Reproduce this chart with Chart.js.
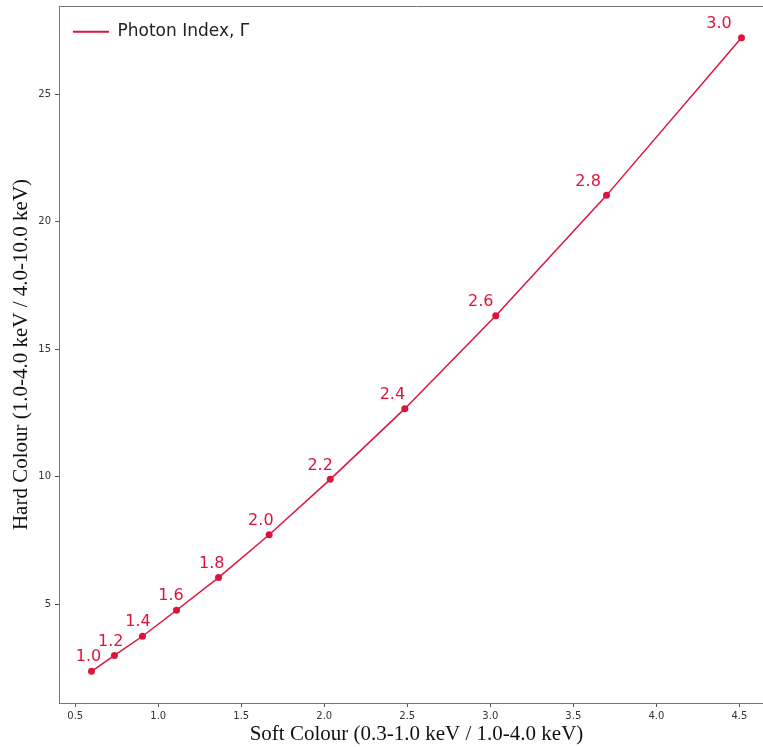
<!DOCTYPE html>
<html>
<head>
<meta charset="utf-8">
<script src="https://cdn.jsdelivr.net/npm/chart.js@4"></script>
<style>
  html, body { margin: 0; padding: 0; background: #fff; overflow: hidden; }
  #wrap { width: 763px; height: 747px; overflow: hidden; position: relative; }
  #c { position: absolute; left: 0; top: 0; }
</style>
</head>
<body>
<div id="wrap"><canvas id="c" width="790" height="747"></canvas></div>
<script>
// ---- data ----
const photonIndex = ['1.0', '1.2', '1.4', '1.6', '1.8', '2.0', '2.2', '2.4', '2.6', '2.8', '3.0'];
const softColour  = [0.598, 0.736, 0.905, 1.110, 1.363, 1.668, 2.036, 2.485, 3.033, 3.700, 4.513];
const hardColour  = [2.376, 3.00, 3.75, 4.77, 6.05, 7.73, 9.90, 12.67, 16.31, 21.03, 27.21];
const xTicks = [0.5, 1.0, 1.5, 2.0, 2.5, 3.0, 3.5, 4.0, 4.5];
const yTicks = [5, 10, 15, 20, 25];
const seriesLabel = 'Photon Index, \u0393';
const xTitle = 'Soft Colour (0.3-1.0 keV / 1.0-4.0 keV)';
const yTitle = 'Hard Colour (1.0-4.0 keV / 4.0-10.0 keV)';

const RED = '#DC143C';
const points = softColour.map((x, i) => ({ x: x, y: hardColour[i] }));

// matplotlib-like 5% margins
const xr = Math.max(...softColour) - Math.min(...softColour);
const yr = Math.max(...hardColour) - Math.min(...hardColour);
const xMin = Math.min(...softColour) - 0.05 * xr, xMax = Math.max(...softColour) + 0.05 * xr;
const yMin = Math.min(...hardColour) - 0.05 * yr, yMax = Math.max(...hardColour) + 0.05 * yr;

const framePlugin = {
  id: 'frame',
  afterDraw(chart) {
    const { ctx, chartArea: a } = chart;
    ctx.save();
    ctx.strokeStyle = '#777';
    ctx.lineWidth = 1;
    ctx.beginPath();
    ctx.moveTo(a.left, a.top + 0.5);
    ctx.lineTo(a.right, a.top + 0.5);
    ctx.moveTo(a.right - 0.5, a.top);
    ctx.lineTo(a.right - 0.5, a.bottom);
    ctx.stroke();
    ctx.restore();
  }
};

const labelPlugin = {
  id: 'pointLabels',
  afterDatasetsDraw(chart) {
    const { ctx } = chart;
    const xs = chart.scales.x, ys = chart.scales.y;
    ctx.save();
    ctx.font = '16px "DejaVu Sans"';
    ctx.fillStyle = RED;
    ctx.textAlign = 'center';
    ctx.textBaseline = 'bottom';
    photonIndex.forEach((lab, i) => {
      const px = xs.getPixelForValue(softColour[i] * 0.97);
      const py = ys.getPixelForValue(hardColour[i]) - 6;
      ctx.fillText(lab, px, py);
    });
    ctx.restore();
  }
};

new Chart(document.getElementById('c'), {
  type: 'line',
  data: {
    datasets: [{
      label: seriesLabel,
      data: points,
      borderColor: RED,
      backgroundColor: RED,
      borderWidth: 1.5,
      pointRadius: 3.5,
      pointHoverRadius: 3.5,
      pointBackgroundColor: RED,
      pointBorderColor: RED,
      pointBorderWidth: 0,
      tension: 0,
      fill: false
    }]
  },
  options: {
    responsive: false,
    devicePixelRatio: 1,
    animation: false,
    layout: { padding: { left: 0, top: 6, right: 16, bottom: 0 } },
    plugins: {
      legend: {
        position: 'chartArea',
        align: 'start',
        title: {
          display: true,
          text: ' ',
          font: { size: 1 },
          padding: { top: 4, bottom: 4 }
        },
        labels: {
          boxWidth: 36,
          boxHeight: 2,
          padding: 14,
          color: '#222',
          font: { family: '"DejaVu Sans"', size: 17 },
          generateLabels(chart) {
            return chart.data.datasets.map((d, i) => ({
              text: d.label, fillStyle: RED, strokeStyle: RED, lineWidth: 0,
              fontColor: '#222', datasetIndex: i, hidden: false
            }));
          }
        }
      },
      tooltip: { enabled: false }
    },
    scales: {
      x: {
        type: 'linear',
        min: xMin, max: xMax,
        afterFit(s) { s.height = 44; s.paddingLeft = 0; s.paddingRight = 0; },
        afterBuildTicks(s) { s.ticks = xTicks.map(v => ({ value: v })); },
        ticks: {
          includeBounds: false,
          padding: 3,
          color: '#333',
          font: { family: '"DejaVu Sans"', size: 10 },
          callback: v => v.toFixed(1),
          maxRotation: 0
        },
        grid: { drawOnChartArea: false, drawTicks: true, tickLength: 4, tickColor: '#555' },
        border: { display: true, color: '#777', width: 1 },
        title: {
          display: true, text: xTitle, color: '#111',
          font: { family: '"Liberation Serif"', size: 21 },
          padding: { top: 0, bottom: 0 }
        }
      },
      y: {
        type: 'linear',
        min: yMin, max: yMax,
        afterFit(s) { s.width = 59; s.paddingTop = 0; s.paddingBottom = 0; },
        afterBuildTicks(s) { s.ticks = yTicks.map(v => ({ value: v })); },
        ticks: {
          includeBounds: false,
          padding: 4,
          color: '#333',
          font: { family: '"DejaVu Sans"', size: 10 },
          callback: v => String(v)
        },
        grid: { drawOnChartArea: false, drawTicks: true, tickLength: 4, tickColor: '#555' },
        border: { display: true, color: '#777', width: 1 },
        title: {
          display: true, text: yTitle, color: '#111',
          font: { family: '"Liberation Serif"', size: 21 },
          padding: { top: 9, bottom: 0 }
        }
      }
    }
  },
  plugins: [framePlugin, labelPlugin]
});
</script>
</body>
</html>
